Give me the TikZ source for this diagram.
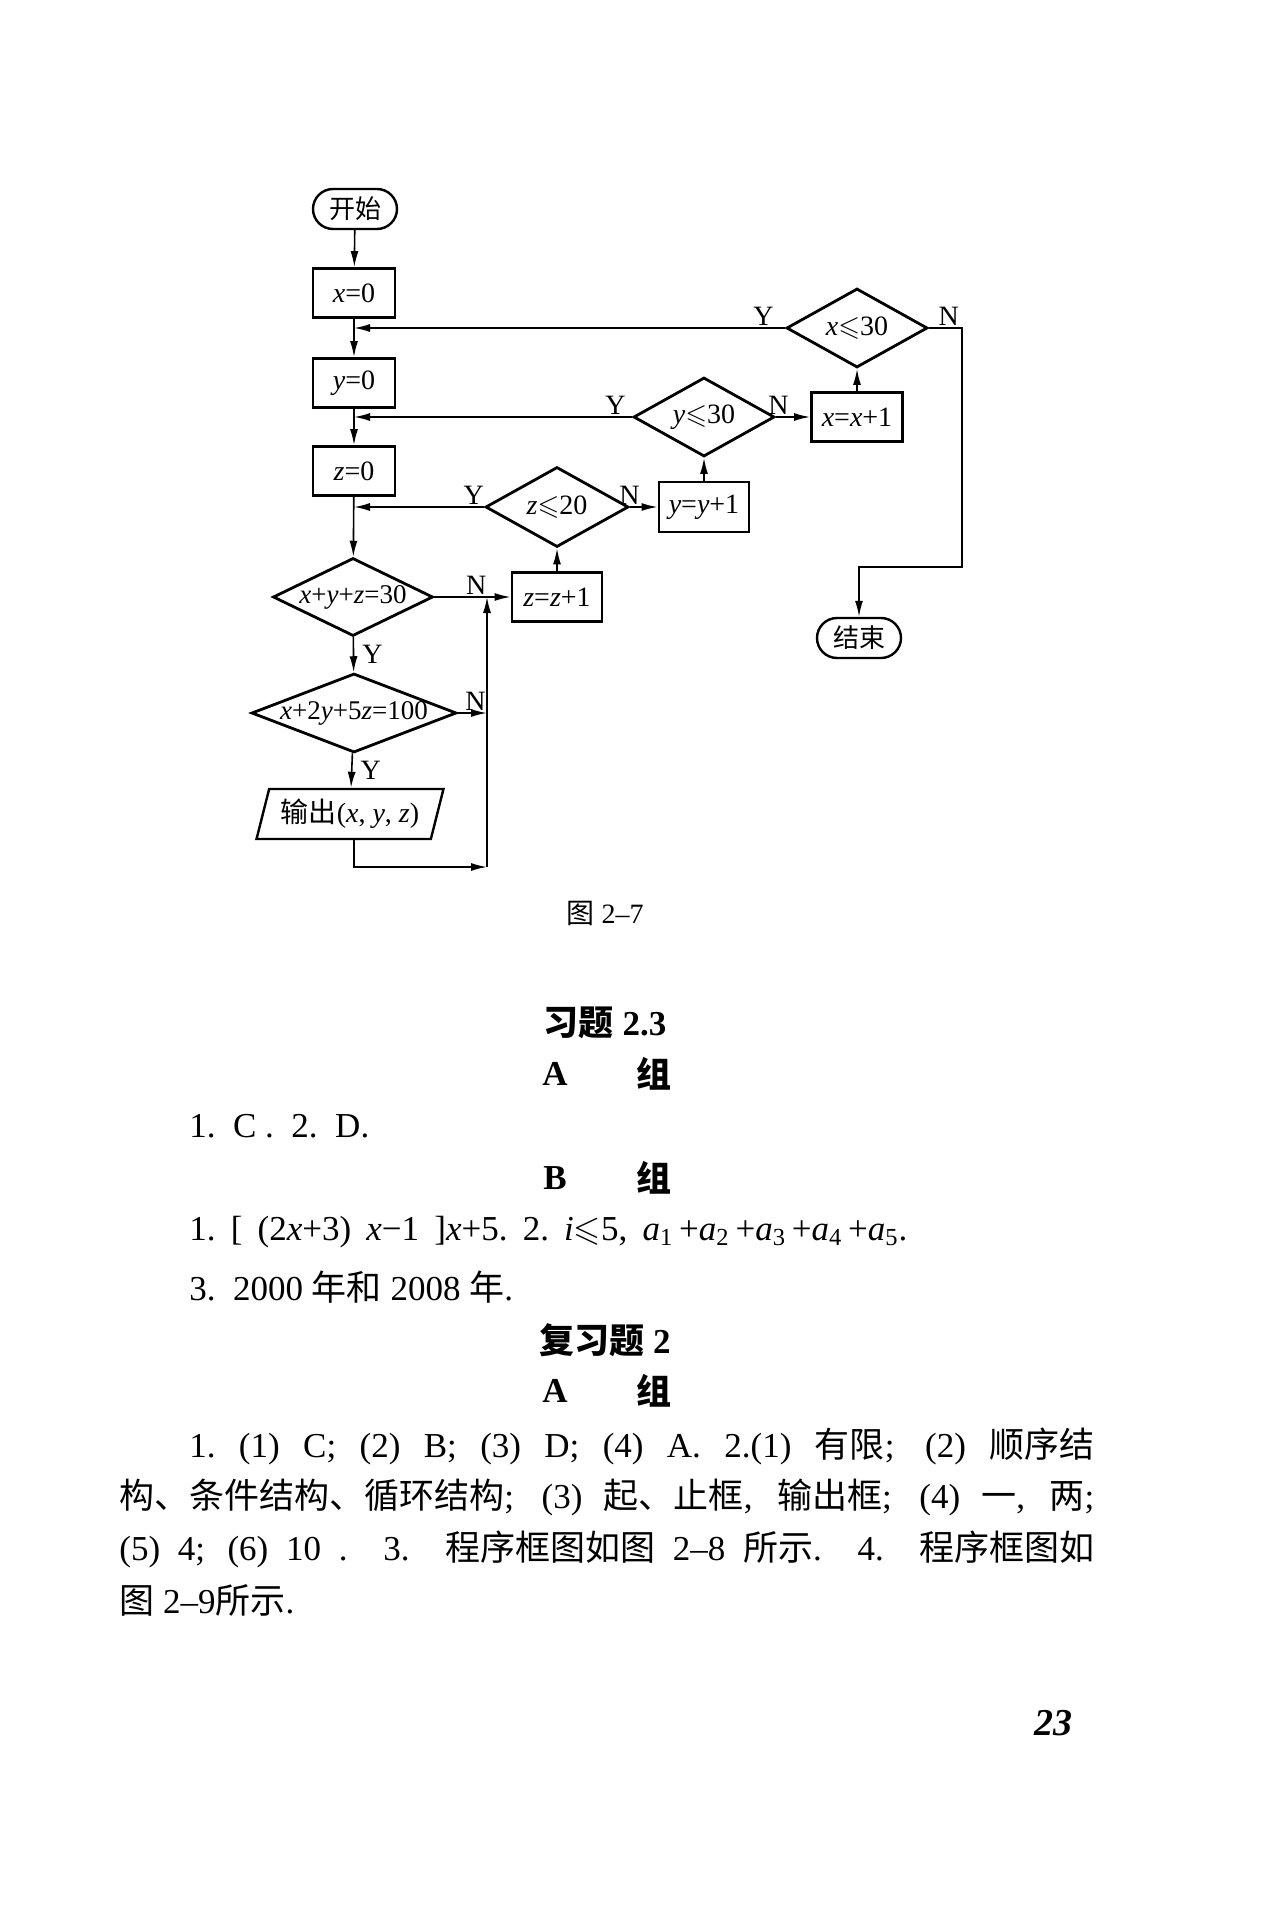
\documentclass[tikz,border=0pt]{standalone}
\usepackage{fontspec}
\usepackage{amssymb}
\setmainfont{Liberation Serif}
\newfontfamily\cjk{Noto Sans CJK SC}
\usetikzlibrary{shapes.geometric,arrows.meta}
\XeTeXlinebreaklocale "zh"
\XeTeXlinebreakskip=0pt plus 1pt
\newcommand\zh[1]{{\cjk #1}}
\newcommand\lesl{$\leqslant$}
\tikzset{
  proc/.style={draw,line width=1.4pt,minimum height=24.5pt,minimum width=41pt,inner sep=0pt,font=\fontsize{14}{16}\selectfont},
  decide/.style={draw,diamond,line width=1.4pt,inner sep=0pt,aspect=1.8,font=\fontsize{14}{16}\selectfont},
  term/.style={draw,rounded corners=10pt,line width=1.2pt,minimum width=42pt,minimum height=20pt,font=\fontsize{13}{15}\selectfont\cjk},
  io/.style={draw,trapezium,trapezium left angle=70,trapezium right angle=110,trapezium stretches=true,line width=1.2pt,minimum width=93.5pt,minimum height=25pt,inner sep=0pt,font=\fontsize{14}{16}\selectfont},
  flow/.style={line width=0.8pt},
  yn/.style={font=\fontsize{14}{16}\selectfont,inner sep=1pt},
  body/.style={anchor=west,inner sep=0pt,font=\fontsize{17.5}{21}\selectfont},
  head/.style={inner sep=0pt,font=\bfseries\fontsize{17.5}{21}\selectfont},
}
\begin{document}
\begin{tikzpicture}[x=0.5pt,y=-0.5pt,>={Latex[length=8pt,width=4pt]}]
\useasboundingbox (0,0) rectangle (1275,1910);
\node[term] (start) at (355,209) {开始};
\node[proc] (x0) at (354,293) {\textit{x}=0};
\node[proc] (y0) at (354,383) {\textit{y}=0};
\node[proc] (z0) at (354,471) {\textit{z}=0};
\node[decide,aspect=2.05,inner xsep=-2pt,minimum width=80pt,minimum height=39pt,font=\fontsize{13.5}{16}\selectfont] (sum) at (353,597) {\textit{x}+\textit{y}+\textit{z}=30};
\node[decide,aspect=2.6,inner xsep=-6pt,minimum width=102.5pt,minimum height=39.5pt,font=\fontsize{13.5}{16}\selectfont] (cost) at (354,713) {\textit{x}+2\textit{y}+5\textit{z}=100};
\node[io] (out) at (350,814) {\zh{输出}(\textit{x}, \textit{y}, \textit{z})};
\node[proc,minimum width=45pt] (zinc) at (557,597) {\textit{z}=\textit{z}+1};
\node[decide,minimum width=71.5pt,minimum height=40pt] (zle) at (557,507) {\textit{z}\lesl20};
\node[proc,minimum width=45pt,minimum height=25pt] (yinc) at (704,507) {\textit{y}=\textit{y}+1};
\node[decide,minimum width=70.5pt,minimum height=39.5pt] (yle) at (704,417) {\textit{y}\lesl30};
\node[proc,minimum width=45.5pt] (xinc) at (857,417) {\textit{x}=\textit{x}+1};
\node[decide,minimum width=70.5pt,minimum height=39.5pt] (xle) at (857,328) {\textit{x}\lesl30};
\node[term] (end) at (859,638) {结束};
\coordinate (jn) at (487,597);
\coordinate (jb) at (487,867);
\coordinate (xr) at (962,567);
\draw[flow,->] (start) -- (x0);
\draw[flow,->] (x0) -- (y0);
\draw[flow,->] (y0) -- (z0);
\draw[flow,->] (z0) -- (sum);
\draw[flow,->] (sum) -- node[yn,right=3pt] {Y} (cost);
\draw[flow,->] (cost) -- node[yn,right=3pt] {Y} (out);
\draw[flow,->] (sum.east) -- node[yn,above,pos=0.55] {N} (zinc.west);
\draw[flow,->] (cost.east) -- node[yn,above,pos=0.6] {N} (jb |- cost.east);
\draw[flow,->] (cost |- out.south) |- (jb);
\draw[flow,->] (jb) -- (jn);
\draw[flow,->] (zinc) -- (zle);
\draw[flow,->] (zle.west) -- node[yn,above,pos=0.08] {Y} (z0 |- zle.west);
\draw[flow,->] (zle.east) -- node[yn,above left,pos=0.45] {N} (yinc.west);
\draw[flow,->] (yinc) -- (yle);
\draw[flow,->] (yle.west) -- node[yn,above,pos=0.06] {Y} (y0 |- yle.west);
\draw[flow,->] (yle.east) -- node[yn,above left,pos=0.45] {N} (xinc.west);
\draw[flow,->] (xinc) -- (xle);
\draw[flow,->] (xle.west) -- node[yn,above,pos=0.05] {Y} (x0 |- xle.west);
\draw[flow,->] (xle.east) -| node[yn,above,pos=0.3] {N} (xr) -| (end.north);
\node[font=\fontsize{14}{16}\selectfont] (cap) at (605,913) {\zh{图} 2–7};
\node[head] (h1) at (605,1023) {\zh{习题} 2.3};
\node[head] (ga1) at (555,1074) {A};
\node[head] (gz1) at (654,1074) {\zh{组}};
\node[body] (a1) at (189,1126) {1.\ \ C\ .\ \ 2.\ \ D.};
\node[head] (gb) at (555,1178) {B};
\node[head] (gz2) at (654,1178) {\zh{组}};
\node[body] (b1) at (189,1232) {\makebox[359pt][s]{1.\ [\ (2\textit{x}+3)\ \textit{x}−1\ ]\textit{x}+5.\ 2.\ \textit{i}\lesl5,\ \textit{a}\textsubscript{1}\,+\textit{a}\textsubscript{2}\,+\textit{a}\textsubscript{3}\,+\textit{a}\textsubscript{4}\,+\textit{a}\textsubscript{5}.}};
\node[body] (b3) at (189,1287) {3.\ \ 2000 \zh{年和} 2008 \zh{年}.};
\node[head] (h2) at (605,1340) {\zh{复习题} 2};
\node[head] (ga2) at (555,1391) {A};
\node[head] (gz3) at (654,1391) {\zh{组}};
\node[body] (p1) at (189,1446) {\makebox[452.5pt][s]{1.\ (1) C; (2) B; (3) D; (4) A. 2.(1) \zh{有限}; (2) \zh{顺序结}}};
\node[body] (p2) at (119,1497) {\makebox[487.5pt][s]{\zh{构、条件结构、循环结构}; (3) \zh{起、止框}, \zh{输出框}; (4) \zh{一}, \zh{两};}};
\node[body] (p3) at (119,1549) {\makebox[487.5pt][s]{(5) 4; (6) 10\ .\ \ 3.\ \ \zh{程序框图如图} 2–8 \zh{所示}.\ \ 4.\ \ \zh{程序框图如}}};
\node[body] (p4) at (119,1600) {\zh{图} 2–9\zh{所示}.};
\node[font=\bfseries\itshape\fontsize{19}{22}\selectfont] (pg) at (1053,1723) {23};
\end{tikzpicture}
\end{document}
